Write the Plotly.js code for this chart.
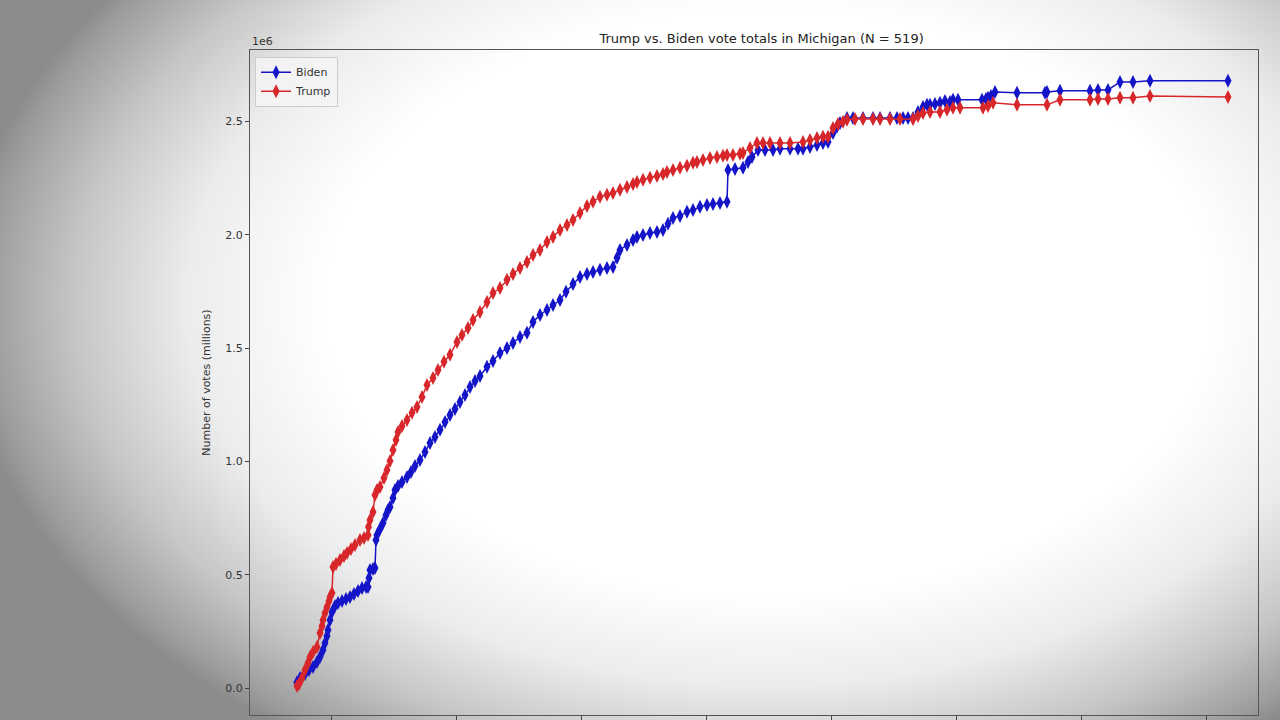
<!DOCTYPE html>
<html>
<head>
<meta charset="utf-8">
<script src="https://cdn.plot.ly/plotly-3.0.1.min.js"></script>
<style>
  html, body { margin: 0; padding: 0; width: 1280px; height: 720px; overflow: hidden; }
  body {
    background: radial-gradient(ellipse 63% 74% at 60% 42%, #ffffff 0%, #ffffff 55%, #ececec 72%, #c6c6c6 86%, #9c9c9c 97%, #8c8c8c 100%);
  }
  #chart { width: 1280px; height: 720px; }
</style>
</head>
<body>
<div id="chart"></div>
<script>
const bidenX = [0.728,0.752,0.792,0.824,0.856,0.888,0.912,0.936,0.952,0.968,
  0.976,0.992,1.008,1.032,1.056,1.088,1.120,1.152,1.184,1.216,
  1.248,1.280,1.296,1.304,1.312,1.336,1.352,1.360,1.368,1.392,
  1.416,1.440,1.456,1.472,1.496,1.512,1.536,1.568,1.608,1.640,
  1.672,1.712,1.752,1.792,1.832,1.872,1.912,1.952,1.992,2.032,
  2.072,2.112,2.152,2.192,2.248,2.296,2.352,2.408,2.456,2.512,
  2.568,2.616,2.672,2.728,2.776,2.832,2.880,2.936,2.992,3.048,
  3.096,3.152,3.208,3.256,3.288,3.312,3.368,3.416,3.448,3.496,
  3.552,3.608,3.656,3.696,3.736,3.792,3.848,3.896,3.952,4.008,
  4.056,4.112,4.168,4.176,4.232,4.296,4.336,4.368,4.416,4.472,
  4.536,4.592,4.672,4.736,4.776,4.832,4.888,4.936,4.976,5.016,
  5.048,5.072,5.128,5.176,5.256,5.336,5.392,5.472,5.528,5.576,
  5.616,5.656,5.696,5.736,5.768,5.792,5.832,5.872,5.912,5.952,
  5.976,6.016,6.208,6.240,6.256,6.280,6.312,6.488,6.712,6.728,
  6.832,7.072,7.136,7.216,7.312,7.416,7.552,8.176];
const bidenVotes = [26000,44000,62000,79000,93000,115000,137000,168000,199000,229000,
  256000,300000,335000,362000,375000,384000,393000,402000,415000,428000,
  441000,446000,446000,485000,521000,525000,530000,653000,675000,702000,
  728000,763000,786000,799000,838000,874000,891000,909000,931000,953000,
  980000,1006000,1041000,1081000,1108000,1139000,1174000,1205000,1231000,1262000,
  1293000,1328000,1355000,1377000,1417000,1443000,1478000,1500000,1522000,1549000,
  1567000,1615000,1646000,1668000,1690000,1712000,1748000,1783000,1814000,1827000,
  1836000,1845000,1853000,1858000,1898000,1933000,1955000,1977000,1990000,1999000,
  2008000,2012000,2021000,2048000,2074000,2083000,2101000,2109000,2123000,2131000,
  2136000,2140000,2145000,2286000,2290000,2295000,2321000,2343000,2374000,2374000,
  2374000,2379000,2379000,2379000,2379000,2387000,2396000,2405000,2409000,2449000,
  2476000,2493000,2515000,2515000,2515000,2515000,2515000,2515000,2515000,2515000,
  2515000,2515000,2542000,2564000,2573000,2573000,2577000,2582000,2590000,2586000,
  2595000,2595000,2595000,2599000,2604000,2612000,2630000,2626000,2626000,2630000,
  2635000,2635000,2639000,2639000,2674000,2674000,2679000,2679000];

const trumpX = [0.728,0.744,0.768,0.792,0.816,0.832,0.856,0.888,0.912,0.928,
  0.936,0.952,0.968,0.984,0.992,1.008,1.016,1.040,1.072,1.104,
  1.128,1.160,1.192,1.232,1.264,1.296,1.300,1.312,1.336,1.352,
  1.368,1.392,1.424,1.448,1.472,1.496,1.520,1.536,1.568,1.608,
  1.648,1.688,1.728,1.768,1.816,1.856,1.904,1.952,2.008,2.048,
  2.096,2.136,2.192,2.248,2.296,2.352,2.408,2.456,2.512,2.568,
  2.616,2.672,2.728,2.776,2.832,2.888,2.936,2.992,3.048,3.096,
  3.152,3.208,3.256,3.312,3.368,3.416,3.448,3.496,3.552,3.608,
  3.656,3.688,3.736,3.792,3.848,3.896,3.928,3.976,4.032,4.088,
  4.136,4.168,4.216,4.272,4.296,4.352,4.408,4.456,4.512,4.592,
  4.672,4.776,4.832,4.888,4.936,4.976,5.016,5.056,5.096,5.128,
  5.192,5.256,5.336,5.392,5.472,5.552,5.656,5.696,5.736,5.792,
  5.872,5.928,5.976,6.032,6.216,6.256,6.296,6.488,6.728,6.832,
  7.072,7.136,7.216,7.312,7.416,7.552,8.176];
const trumpVotes = [9000,18000,44000,79000,110000,137000,159000,181000,243000,274000,
  300000,331000,357000,384000,402000,419000,534000,547000,565000,583000,
  596000,613000,631000,653000,662000,675000,710000,741000,777000,852000,
  874000,887000,927000,962000,1002000,1050000,1094000,1130000,1156000,1183000,
  1214000,1240000,1284000,1337000,1368000,1403000,1439000,1470000,1527000,1558000,
  1589000,1624000,1659000,1703000,1743000,1765000,1801000,1827000,1853000,1880000,
  1911000,1933000,1968000,1990000,2021000,2043000,2065000,2096000,2127000,2145000,
  2167000,2176000,2184000,2198000,2211000,2224000,2233000,2242000,2251000,2259000,
  2268000,2277000,2286000,2295000,2304000,2317000,2321000,2330000,2339000,2343000,
  2348000,2352000,2352000,2357000,2361000,2383000,2405000,2405000,2405000,2405000,
  2405000,2409000,2418000,2427000,2432000,2432000,2471000,2489000,2498000,2507000,
  2511000,2511000,2511000,2511000,2511000,2511000,2511000,2524000,2537000,2542000,
  2542000,2551000,2560000,2560000,2560000,2568000,2582000,2573000,2573000,2595000,
  2595000,2599000,2599000,2604000,2604000,2612000,2608000];

const seriesNames = ['Biden', 'Trump'];
const yTickVals = [0, 500000, 1000000, 1500000, 2000000, 2500000];
const yTickText = ['0.0', '0.5', '1.0', '1.5', '2.0', '2.5'];
const xTickVals = [1, 2, 3, 4, 5, 6, 7, 8];

const BLUE = '#1414c8';
const RED = '#d8272b';

const traces = [
  { x: bidenX, y: bidenVotes, name: seriesNames[0], type: 'scatter', mode: 'lines+markers',
    line: { color: BLUE, width: 1.5 },
    marker: { symbol: 'diamond-tall', size: 10, color: BLUE } },
  { x: trumpX, y: trumpVotes, name: seriesNames[1], type: 'scatter', mode: 'lines+markers',
    line: { color: RED, width: 1.5 },
    marker: { symbol: 'diamond-tall', size: 10, color: RED } }
];

const layout = {
  width: 1280, height: 720,
  margin: { l: 250, r: 22, t: 50, b: 5 },
  paper_bgcolor: 'rgba(0,0,0,0)',
  plot_bgcolor: 'rgba(0,0,0,0)',
  font: { family: 'DejaVu Sans, sans-serif', size: 11, color: '#333' },
  title: { text: 'Trump vs. Biden vote totals in Michigan (N = 519)',
    font: { family: 'DejaVu Sans, sans-serif', size: 13, color: '#222' },
    x: 0.595, xanchor: 'center', y: 0.947, yanchor: 'middle' },
  showlegend: true,
  legend: { x: 0.005, y: 0.99, xanchor: 'left', yanchor: 'top',
    bgcolor: 'rgba(245,245,245,0.85)', bordercolor: '#cccccc', borderwidth: 1,
    font: { family: 'DejaVu Sans, sans-serif', size: 11, color: '#333' },
    itemwidth: 30, tracegroupgap: 2 },
  xaxis: {
    range: [0.352, 8.416], tickvals: xTickVals, showticklabels: false,
    ticks: 'outside', ticklen: 5, tickcolor: '#444',
    showgrid: false, zeroline: false,
    showline: true, linecolor: '#555', linewidth: 1, mirror: true
  },
  yaxis: {
    range: [-119000, 2815000], tickvals: yTickVals, ticktext: yTickText,
    ticks: 'outside', ticklen: 4, tickcolor: '#444',
    showgrid: false, zeroline: false,
    showline: true, linecolor: '#555', linewidth: 1, mirror: true,
    tickfont: { family: 'DejaVu Sans, sans-serif', size: 11, color: '#333' },
    title: { text: 'Number of votes (millions)', standoff: 12,
      font: { family: 'DejaVu Sans, sans-serif', size: 11, color: '#333' } }
  },
  annotations: [
    { text: '1e6', xref: 'paper', yref: 'paper', x: 0, y: 1, xanchor: 'left', yanchor: 'bottom',
      showarrow: false, font: { family: 'DejaVu Sans, sans-serif', size: 11, color: '#333' } }
  ]
};

Plotly.newPlot('chart', traces, layout, { displayModeBar: false, staticPlot: true });
</script>
</body>
</html>
